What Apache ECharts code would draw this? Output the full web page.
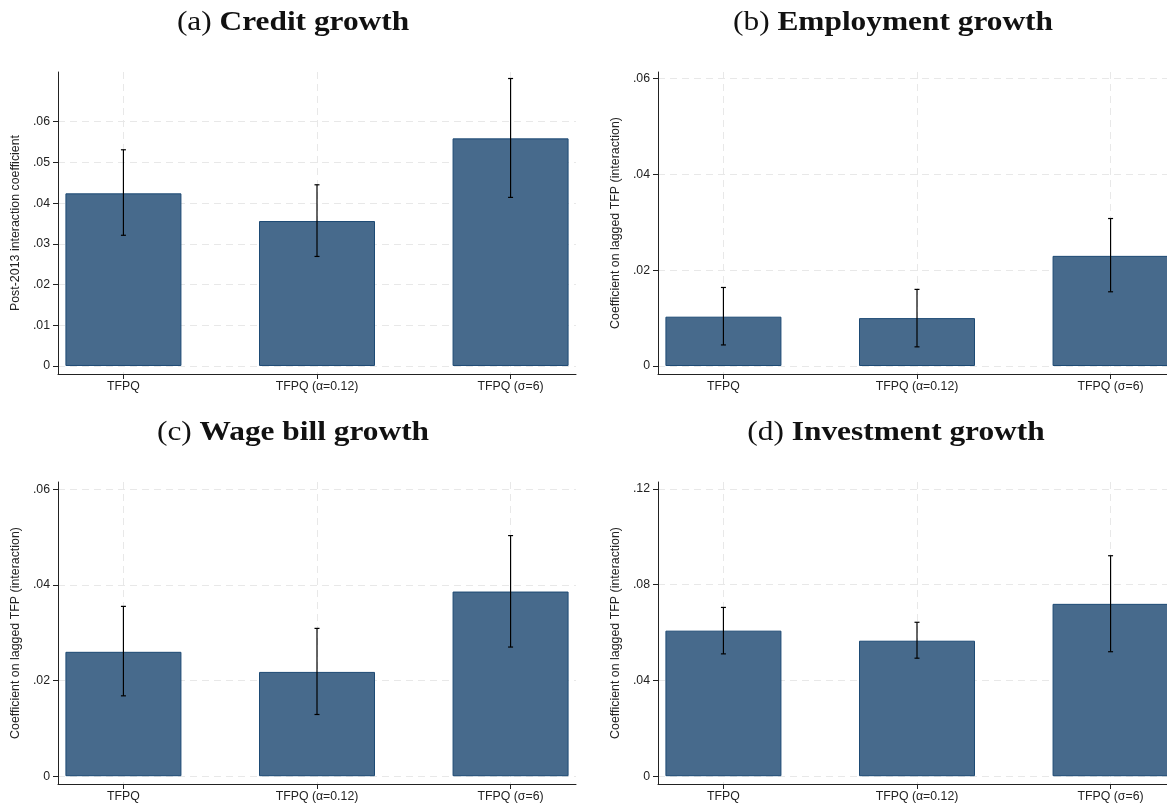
<!DOCTYPE html>
<html>
<head>
<meta charset="utf-8">
<script src="https://cdn.jsdelivr.net/npm/echarts@6/dist/echarts.min.js"></script>
<style>
  html, body { margin: 0; padding: 0; background: #fff; }
  #chart { width: 1167px; height: 806px; }
</style>
</head>
<body>
<div id="chart"></div>
<script>
// Specifications on the x axis
const categories = ['TFPQ', 'TFPQ (α=0.12)', 'TFPQ (σ=6)'];

// (a) Credit growth: point estimates and confidence bounds
const creditCoef = [0.0424, 0.0356, 0.0559];
const creditLow  = [0.0321, 0.0269, 0.0414];
const creditHigh = [0.0531, 0.0445, 0.0706];
const creditTicks = [0, 0.01, 0.02, 0.03, 0.04, 0.05, 0.06];

// (b) Employment growth
const employCoef = [0.0103, 0.0100, 0.0230];
const employLow  = [0.0044, 0.0040, 0.0155];
const employHigh = [0.0164, 0.0160, 0.0308];
const employTicks = [0, 0.02, 0.04, 0.06];

// (c) Wage bill growth
const wageCoef = [0.0260, 0.0218, 0.0386];
const wageLow  = [0.0168, 0.0129, 0.0270];
const wageHigh = [0.0355, 0.0309, 0.0503];
const wageTicks = [0, 0.02, 0.04, 0.06];

// (d) Investment growth
const investCoef = [0.0608, 0.0566, 0.0720];
const investLow  = [0.0511, 0.0493, 0.0520];
const investHigh = [0.0705, 0.0643, 0.0921];
const investTicks = [0, 0.04, 0.08, 0.12];

const panelTitles = [
  ['(a)', 'Credit growth'],
  ['(b)', 'Employment growth'],
  ['(c)', 'Wage bill growth'],
  ['(d)', 'Investment growth']
];
const axisNames = [
  'Post-2013 interaction coefficient',
  'Coefficient on lagged TFP (interaction)',
  'Coefficient on lagged TFP (interaction)',
  'Coefficient on lagged TFP (interaction)'
];

const BAR_FILL = '#476a8c';
const BAR_EDGE = '#1d4a74';
const INK = '#222';
const GRID_LINE = '#e8e8e8';
const SANS = '"Liberation Sans", Arial, sans-serif';
const SERIF = '"Liberation Serif", "DejaVu Serif", serif';
const LABEL_SIZE = 12.3;

// Panel frames and value ranges (right-hand panels run slightly past the page edge)
const panels = [
  { coef: creditCoef, low: creditLow, high: creditHigh, ticks: creditTicks,
    grid: { left: 58, width: 518, top: 72, bottom: 432 }, yMin: -0.00197, yMax: 0.0722 },
  { coef: employCoef, low: employLow, high: employHigh, ticks: employTicks,
    grid: { left: 658, width: 518, top: 72, bottom: 432 }, yMin: -0.00167, yMax: 0.0614 },
  { coef: wageCoef, low: wageLow, high: wageHigh, ticks: wageTicks,
    grid: { left: 58, width: 518, top: 482, bottom: 22 }, yMin: -0.00163, yMax: 0.0615 },
  { coef: investCoef, low: investLow, high: investHigh, ticks: investTicks,
    grid: { left: 658, width: 518, top: 482, bottom: 22 }, yMin: -0.00326, yMax: 0.1229 }
];

const catPositions = categories.map((c, i) => i + 1);

function fmtTick(v) {
  if (Math.abs(v) < 1e-12) return '0';
  return String(+v.toFixed(3)).replace(/^0\./, '.');
}

const grids = [], xAxes = [], yAxes = [], series = [];

panels.forEach((p, k) => {
  grids.push(Object.assign({ containLabel: false, outerBoundsMode: 'none' }, p.grid));

  xAxes.push({
    type: 'value', gridIndex: k, min: 0.662, max: 3.338,
    axisLine: { show: true, onZero: false, lineStyle: { color: INK, width: 1 } },
    axisTick: { show: true, length: 5, customValues: catPositions, lineStyle: { color: INK } },
    axisLabel: {
      customValues: catPositions, margin: 7, color: INK, fontFamily: SANS, fontSize: LABEL_SIZE,
      formatter: v => categories[Math.round(v) - 1] || ''
    },
    splitLine: { show: true, lineStyle: { color: GRID_LINE, type: [7, 5], width: 1 } }
  });

  yAxes.push({
    type: 'value', gridIndex: k, min: p.yMin, max: p.yMax,
    name: axisNames[k], nameLocation: 'middle', nameGap: 36,
    nameTextStyle: { color: INK, fontFamily: SANS, fontSize: 12.4 },
    axisLine: { show: true, lineStyle: { color: INK, width: 1 } },
    axisTick: { show: true, length: 5, customValues: p.ticks, lineStyle: { color: INK } },
    axisLabel: { customValues: p.ticks, margin: 8, color: INK, fontFamily: SANS, fontSize: LABEL_SIZE, formatter: fmtTick },
    splitLine: { show: true, lineStyle: { color: GRID_LINE, type: [7, 5], width: 1 } }
  });

  series.push({
    type: 'bar', xAxisIndex: k, yAxisIndex: k, barWidth: 116, z: 2,
    itemStyle: { color: BAR_FILL, borderColor: BAR_EDGE, borderWidth: 1 },
    data: p.coef.map((v, i) => [catPositions[i], v]),
    silent: true
  });

  series.push({
    type: 'custom', xAxisIndex: k, yAxisIndex: k, z: 3, silent: true,
    data: p.coef.map((v, i) => [catPositions[i], p.low[i], p.high[i]]),
    encode: { x: 0, y: [1, 2] },
    renderItem: (params, api) => {
      const x = api.value(0);
      const lo = api.coord([x, api.value(1)]);
      const hi = api.coord([x, api.value(2)]);
      const cap = 2.5;
      const st = { stroke: '#000', lineWidth: 1.2 };
      return {
        type: 'group',
        children: [
          { type: 'line', shape: { x1: lo[0], y1: lo[1], x2: hi[0], y2: hi[1] }, style: st },
          { type: 'line', shape: { x1: lo[0] - cap, y1: lo[1], x2: lo[0] + cap, y2: lo[1] }, style: st },
          { type: 'line', shape: { x1: hi[0] - cap, y1: hi[1], x2: hi[0] + cap, y2: hi[1] }, style: st }
        ]
      };
    }
  });
});

// Panel headings, widened to a book-face proportion
const titleCenters = [[293, 23], [893, 23], [293, 433], [896, 433]];
const graphics = panelTitles.map((t, k) => ({
  type: 'text', x: titleCenters[k][0], y: titleCenters[k][1],
  scaleX: 1.12,
  style: {
    text: '{n|' + t[0] + ' }{b|' + t[1] + '}',
    align: 'center', verticalAlign: 'middle',
    rich: {
      n: { fontFamily: SERIF, fontSize: 28, fontWeight: 'normal', fill: '#111' },
      b: { fontFamily: SERIF, fontSize: 28, fontWeight: 'bold', fill: '#111' }
    }
  }
}));

const chart = echarts.init(document.getElementById('chart'), null, { renderer: 'canvas' });
chart.setOption({
  backgroundColor: '#fff',
  animation: false,
  grid: grids,
  xAxis: xAxes,
  yAxis: yAxes,
  series: series,
  graphic: graphics
});
</script>
</body>
</html>
